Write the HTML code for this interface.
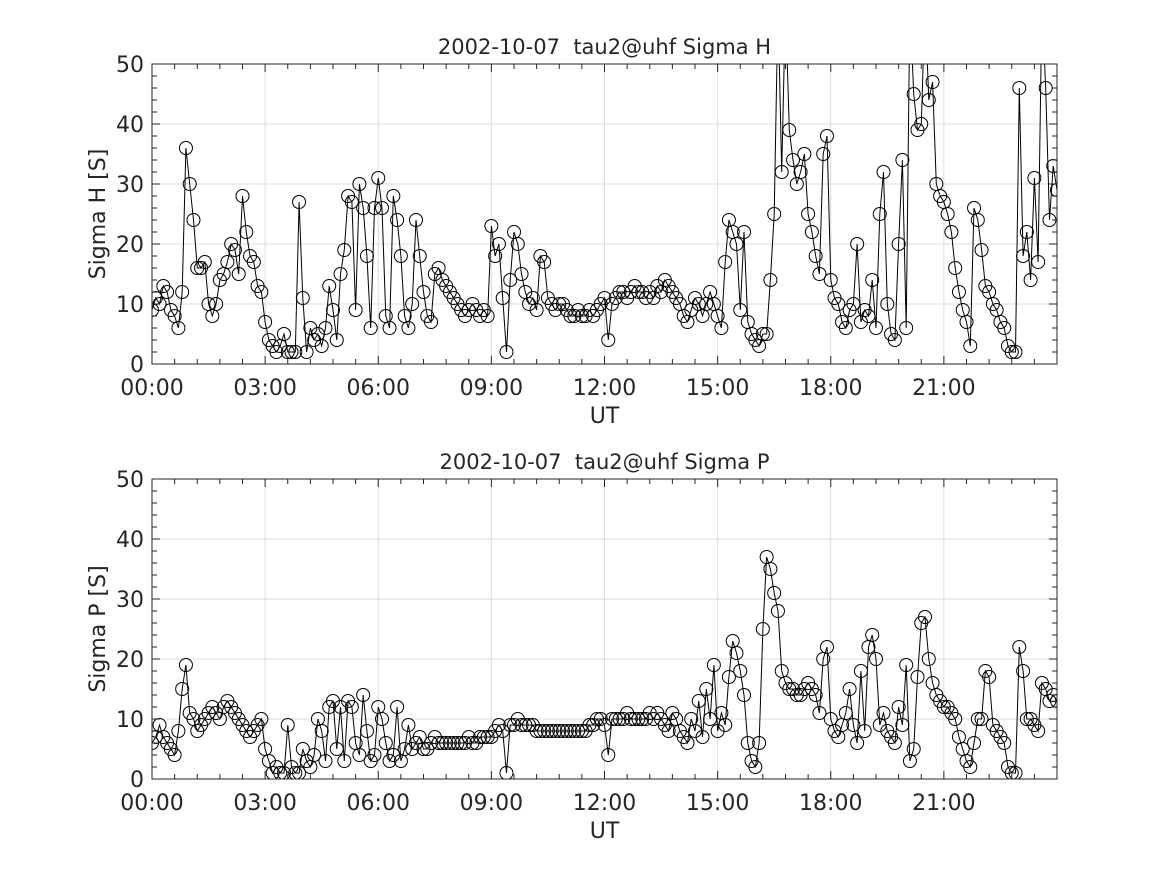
<!DOCTYPE html>
<html><head><meta charset="utf-8">
<style>
html,body{margin:0;padding:0;background:#fff;}
svg text{font-family:"DejaVu Sans","Liberation Sans",sans-serif;fill:#262626;}
</style></head>
<body>
<svg id="chart" width="1167" height="875" xmlns="http://www.w3.org/2000/svg"></svg>
<script>
const xTickLabels = ["00:00","03:00","06:00","09:00","12:00","15:00","18:00","21:00"];
const yTickLabels = [0,10,20,30,40,50];
const sigmaH = [
9,11,10,13,12,9,8,6,12,36,
30,24,16,16,17,10,8,10,14,15,
17,20,19,15,28,22,18,17,13,12,
7,4,3,2,3,5,2,2,2,27,
11,2,6,4,5,3,6,13,9,4,
15,19,28,27,9,30,26,18,6,26,
31,26,8,6,28,24,18,8,6,10,
24,18,12,8,7,15,16,14,13,12,
11,10,9,8,9,10,9,8,9,8,
23,18,20,11,2,14,22,20,15,12,
10,11,9,18,17,11,10,9,10,10,
9,8,8,9,8,8,9,8,9,10,
11,4,10,11,12,12,11,12,13,12,
12,11,12,11,13,12,14,13,12,11,
10,8,7,9,11,10,8,10,12,10,
8,6,17,24,22,20,9,22,7,5,
4,3,5,5,14,25,60,32,60,39,
34,30,32,35,25,22,18,15,35,38,
14,11,10,7,6,9,10,20,7,9,
8,14,6,25,32,10,5,4,20,34,
6,60,45,39,40,60,44,47,30,28,
27,25,22,16,12,9,7,3,26,24,
19,13,12,10,9,7,6,3,2,2,
46,18,22,14,31,17,60,46,24,33,29];
const sigmaP = [
6,7,9,7,6,5,4,8,15,19,
11,10,8,9,10,11,12,11,10,12,
13,12,11,10,9,8,7,8,9,10,
5,3,1,2,1,1,9,2,1,1,
5,3,2,4,10,8,3,12,13,5,
12,3,13,12,6,4,14,8,3,4,
12,10,6,3,4,12,3,5,9,5,
6,7,5,5,6,7,6,6,6,6,
6,6,6,6,7,6,6,7,7,7,
7,8,9,8,1,9,9,10,9,9,
9,9,8,8,8,8,8,8,8,8,
8,8,8,8,8,8,9,9,10,10,
9,4,10,10,10,10,11,10,10,10,
10,10,11,10,11,10,9,8,11,10,
8,7,6,10,8,13,7,15,10,19,
8,11,9,17,23,21,18,14,6,3,
2,6,25,37,35,31,28,18,16,15,
15,14,14,15,16,15,14,11,20,22,
10,8,7,9,11,15,9,6,18,8,
22,24,20,9,11,8,7,6,12,9,
19,3,5,17,26,27,20,16,14,13,
12,12,11,10,7,5,3,2,6,10,
10,18,17,9,8,7,6,2,1,1,
22,18,10,10,9,8,16,15,13,14,13];

const NS="http://www.w3.org/2000/svg";
const svg=document.getElementById('chart');
function mk(tag,attrs,parent){const e=document.createElementNS(NS,tag);for(const k in attrs)e.setAttribute(k,attrs[k]);(parent||svg).appendChild(e);return e;}

function panel(cfg){
  const L=152,R=1057,T=cfg.top,B=cfg.top+300;
  const xs=h=>L+(R-L)*h/24;
  const ys=v=>B-(B-T)*v/50;
  const g=mk('g',{});
  
  
  mk('rect',{x:L,y:T,width:R-L,height:B-T,fill:'#fff'},g);
  for(let i=0;i<=8;i++){const x=xs(i*3);mk('line',{x1:x,x2:x,y1:T,y2:B,stroke:'#dcdcdc','stroke-width':1},g);}
  for(let i=0;i<yTickLabels.length;i++){const y=ys(yTickLabels[i]);mk('line',{x1:L,x2:R,y1:y,y2:y,stroke:'#dcdcdc','stroke-width':1},g);}
  const cid='clip'+cfg.name;
  const cp=mk('clipPath',{id:cid},g);mk('rect',{x:L,y:T,width:R-L,height:B-T},cp);
  const dg=mk('g',{'clip-path':'url(#'+cid+')'},g);
  const d=cfg.data;
  let p='';
  for(let i=0;i<d.length;i++){p+=(i?'L':'M')+xs(i*0.1).toFixed(1)+' '+ys(d[i]).toFixed(1);}
  const line=mk('path',{d:p,fill:'none',stroke:'#000','stroke-width':1},dg);
  
  
  for(let i=0;i<d.length;i++){
    const c=mk('circle',{cx:xs(i*0.1),cy:ys(d[i]),r:6.5,fill:'none',stroke:'#000','stroke-width':1},dg);
    
    
  }
  let tk='';
  for(let i=0;i<=40;i++){const x=xs(i*0.6);const len=(i%5===0)?8:5;tk+=`M${x} ${B}v${-len}M${x} ${T}v${len}`;}
  for(let v=0;v<=50;v+=2){const y=ys(v);const len=(v%10===0)?8:5;tk+=`M${L} ${y}h${len}M${R} ${y}h${-len}`;}
  mk('path',{d:tk,stroke:'#262626','stroke-width':1,fill:'none'},g);
  mk('rect',{x:L,y:T,width:R-L,height:B-T,fill:'none',stroke:'#262626','stroke-width':1},g);
  for(let i=0;i<xTickLabels.length;i++){
    const t=mk('text',{x:xs(i*3),y:B+31,'font-size':22,'text-anchor':'middle'},g);t.textContent=xTickLabels[i];
    
    
  }
  for(let i=0;i<yTickLabels.length;i++){
    const t=mk('text',{x:L-8,y:ys(yTickLabels[i])+8,'font-size':22,'text-anchor':'end'},g);t.textContent=yTickLabels[i];
    
    
  }
  const xl=mk('text',{x:(L+R)/2,y:B+59,'font-size':22,'text-anchor':'middle'},g);xl.textContent='UT';
  
  
  const yl=mk('text',{x:0,y:0,'font-size':22,'text-anchor':'middle',transform:`translate(105 ${(T+B)/2}) rotate(-90)`},g);yl.textContent=cfg.ylabel;
  
  
  const ti=mk('text',{x:(L+R)/2,y:T-10,'font-size':21,'text-anchor':'middle','xml:space':'preserve'},g);ti.textContent=cfg.title;
  
  
}
panel({name:'sigma-h-panel',top:64,data:sigmaH,ylabel:'Sigma H [S]',title:'2002-10-07\u00a0\u00a0tau2@uhf Sigma H'});
panel({name:'sigma-p-panel',top:479,data:sigmaP,ylabel:'Sigma P [S]',title:'2002-10-07\u00a0\u00a0tau2@uhf Sigma P'});
</script>
</body></html>
